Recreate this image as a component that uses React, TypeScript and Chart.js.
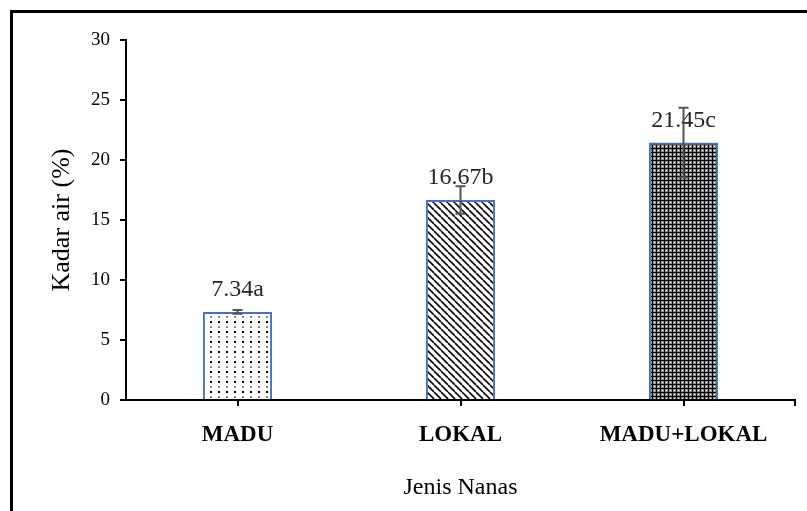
import React, { useEffect, useRef } from 'react';
import { Chart, registerables } from 'chart.js';

Chart.register(...registerables);

const categories = ['MADU', 'LOKAL', 'MADU+LOKAL'];
const values = [7.34, 16.67, 21.45];
const errors = [0.15, 1.15, 2.9];
const letters = ['a', 'b', 'c'];
const yMin = 0;
const yMax = 30;
const yStep = 5;
const xTitle = 'Jenis Nanas';
const yTitle = 'Kadar air (%)';

const SERIF = '"Liberation Serif", "Times New Roman", serif';

function makePattern(kind: string): CanvasPattern | string {
  const c = document.createElement('canvas');
  const g = c.getContext('2d');
  if (!g) return '#fff';
  if (kind === 'dots') {
    c.width = 8; c.height = 10;
    g.fillStyle = '#fff'; g.fillRect(0, 0, 8, 10);
    g.fillStyle = '#000'; g.fillRect(2, 1, 2, 2);
    g.fillStyle = '#888'; g.fillRect(2, 6, 2, 2);
  } else if (kind === 'hatch') {
    c.width = 7; c.height = 7;
    g.fillStyle = '#fff'; g.fillRect(0, 0, 7, 7);
    g.strokeStyle = '#000'; g.lineWidth = 1.6;
    for (const o of [-7, 0, 7]) {
      g.beginPath(); g.moveTo(o, 0); g.lineTo(o + 7, 7); g.stroke();
    }
  } else {
    c.width = 8; c.height = 8;
    g.fillStyle = '#8c8c8c'; g.fillRect(0, 0, 8, 8);
    g.fillStyle = '#000';
    g.fillRect(0, 0, 8, 1); g.fillRect(0, 4, 8, 1);
    g.fillRect(0, 0, 1, 8); g.fillRect(4, 0, 1, 8);
    g.fillStyle = '#fff';
    g.fillRect(2, 2, 1, 1); g.fillRect(6, 6, 1, 1);
    g.fillRect(6, 2, 1, 1); g.fillRect(2, 6, 1, 1);
  }
  const p = g.createPattern(c, 'repeat');
  return p || '#fff';
}

const annotPlugin = {
  id: 'annot',
  afterDatasetsDraw(chart: any) {
    const ctx = chart.ctx;
    const meta = chart.getDatasetMeta(0);
    const ys = chart.scales.y;
    ctx.save();
    // value labels
    ctx.font = `24px ${SERIF}`;
    ctx.fillStyle = '#262626';
    ctx.textAlign = 'center';
    ctx.textBaseline = 'middle';
    meta.data.forEach((bar: any, i: number) => {
      ctx.fillText(`${values[i].toFixed(2)}${letters[i]}`, bar.x, bar.y - 22);
    });
    // error bars
    ctx.strokeStyle = '#555555';
    ctx.lineWidth = 2;
    meta.data.forEach((bar: any, i: number) => {
      const x = bar.x;
      const top = ys.getPixelForValue(values[i] + errors[i]);
      const bot = ys.getPixelForValue(values[i] - errors[i]);
      ctx.beginPath();
      ctx.moveTo(x, top); ctx.lineTo(x, bot);
      ctx.moveTo(x - 5, top); ctx.lineTo(x + 5, top);
      ctx.moveTo(x - 5, bot); ctx.lineTo(x + 5, bot);
      ctx.stroke();
    });
    // end tick on x axis
    const area = chart.chartArea;
    ctx.strokeStyle = '#000';
    ctx.beginPath();
    ctx.moveTo(area.right, area.bottom);
    ctx.lineTo(area.right, area.bottom + 6);
    ctx.stroke();
    ctx.restore();
  },
};

export default function App() {
  const ref = useRef<HTMLCanvasElement>(null);
  useEffect(() => {
    if (!ref.current) return;
    const fills = [makePattern('dots'), makePattern('hatch'), makePattern('grid')];
    const chart = new Chart(ref.current, {
      type: 'bar',
      data: {
        labels: categories,
        datasets: [
          {
            data: values,
            backgroundColor: fills as any,
            borderColor: '#4472C4',
            borderWidth: 2,
            barPercentage: 0.31,
            categoryPercentage: 1,
          },
        ],
      },
      options: {
        responsive: false,
        animation: false,
        devicePixelRatio: 1,
        layout: { padding: { top: 40, right: 12, bottom: 0, left: 0 } },
        plugins: { legend: { display: false }, tooltip: { enabled: false } },
        scales: {
          x: {
            grid: {
              display: true,
              drawOnChartArea: false,
              drawTicks: true,
              tickLength: 6,
              lineWidth: 2,
              color: '#000',
              offset: false,
            },
            border: { display: true, color: '#000', width: 2 },
            ticks: {
              color: '#000',
              padding: 15,
              font: { family: SERIF, size: 23, weight: 'bold' },
            },
            title: {
              display: true,
              text: xTitle,
              color: '#000',
              font: { family: SERIF, size: 24 },
              padding: { top: 0, bottom: 9 },
            },
            afterFit(scale: any) { scale.height = 111; },
          },
          y: {
            min: yMin,
            max: yMax,
            grid: {
              display: true,
              drawOnChartArea: false,
              drawTicks: true,
              tickLength: 6,
              lineWidth: 2,
              color: '#000',
            },
            border: { display: true, color: '#000', width: 2 },
            ticks: {
              stepSize: yStep,
              color: '#000',
              padding: 10,
              font: { family: SERIF, size: 19 },
            },
            title: {
              display: true,
              text: yTitle,
              color: '#000',
              font: { family: SERIF, size: 26 },
              padding: { top: 47, bottom: 0 },
            },
            afterFit(scale: any) { scale.width = 126; },
          },
        },
      },
      plugins: [annotPlugin],
    } as any);
    return () => chart.destroy();
  }, []);
  return (
    <div style={{ position: 'absolute', left: 0, top: 0, width: 807, height: 511, background: '#fff', overflow: 'hidden' }}>
      <canvas ref={ref} width={807} height={511} style={{ display: 'block' }} />
      <div style={{ position: 'absolute', left: 10, top: 10, width: 840, height: 560, border: '3px solid #000', boxSizing: 'border-box', pointerEvents: 'none' }} />
    </div>
  );
}
